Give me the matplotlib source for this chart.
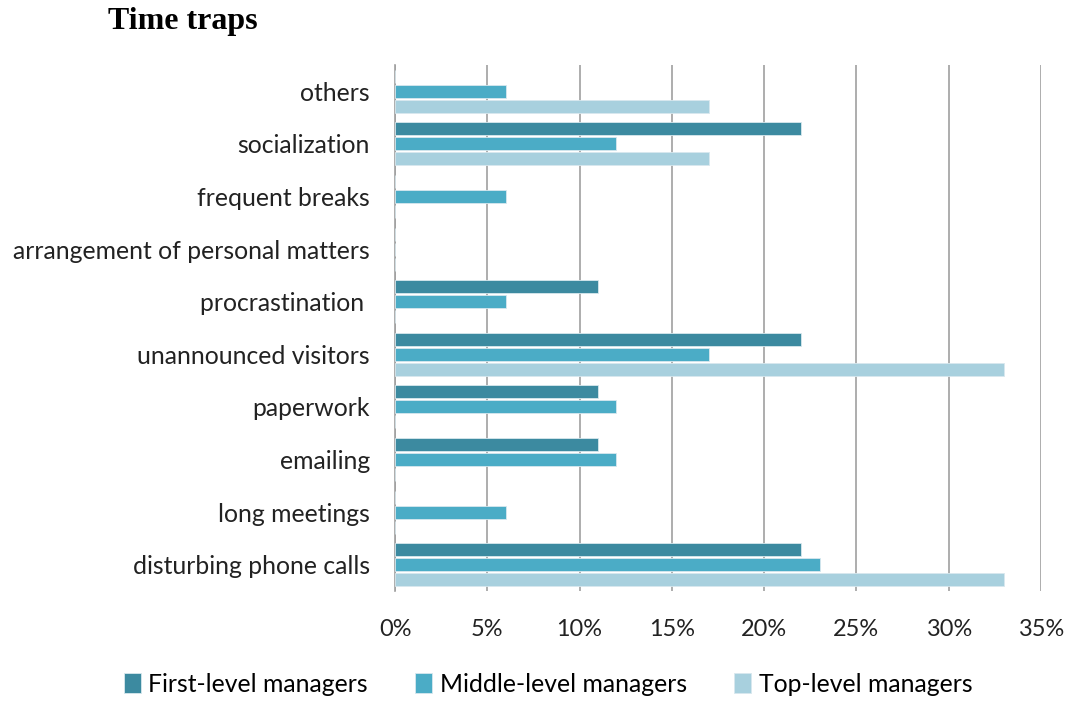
import matplotlib.pyplot as plt
import numpy as np
from matplotlib.ticker import FuncFormatter

# Categories listed bottom to top, as drawn.
categories = ["disturbing phone calls", "long meetings", "emailing", "paperwork",
              "unannounced visitors", "procrastination ",
              "arrangement of personal matters", "frequent breaks",
              "socialization", "others"]
first_level = [22, 0, 11, 11, 22, 11, 0, 0, 22, 0]
middle_level = [23, 6, 12, 12, 17, 6, 0, 6, 12, 6]
top_level = [33, 0, 0, 0, 33, 0, 0, 0, 17, 17]

series = [("First-level managers", first_level, "#3C8AA0"),
          ("Middle-level managers", middle_level, "#4BACC6"),
          ("Top-level managers", top_level, "#A8D0DE")]

plt.rcParams["font.family"] = ["Lato", "DejaVu Sans"]

fig = plt.figure(figsize=(10.69, 7.01), dpi=100)
ax = fig.add_axes([395 / 1069, 1 - 591 / 701, 646 / 1069, 526 / 701])

y = np.arange(len(categories))
offsets = [0.285, 0.0, -0.285]
for (name, vals, col), off in zip(series, offsets):
    ax.barh(y + off, vals, height=0.25, color=col, edgecolor="#d8e8ee",
            linewidth=0.6, label=name, zorder=3)

ax.set_xlim(0, 35)
ax.set_ylim(-0.5, len(categories) - 0.5)
ax.set_xticks(np.arange(0, 36, 5))
ax.xaxis.set_major_formatter(FuncFormatter(lambda v, p: f"{v:.0f}%"))
ax.set_yticks(y)
ax.set_yticklabels(categories)
ax.grid(axis="x", color="#a0a0a0", linewidth=1.2, zorder=0)
for s in ["top", "right", "bottom"]:
    ax.spines[s].set_visible(False)
ax.spines["left"].set_color("#a0a0a0")
ax.spines["left"].set_linewidth(1.2)
ax.tick_params(axis="y", length=0, pad=18, labelsize=17.8, colors="#222222")
ax.tick_params(axis="x", length=0, pad=20, labelsize=16.9, colors="#222222")

fig.text(108 / 1069, 1 - 22 / 701, "Time traps", family="Liberation Serif",
         fontweight="bold", fontsize=23, va="center", ha="left")

fig.legend(loc="center", bbox_to_anchor=(548 / 1069, 1 - 684 / 701), ncol=3,
           frameon=False, fontsize=17.8, handlelength=0.7, handleheight=0.9,
           handletextpad=0.3, columnspacing=1.9)

fig.savefig("out.png", dpi=100)
